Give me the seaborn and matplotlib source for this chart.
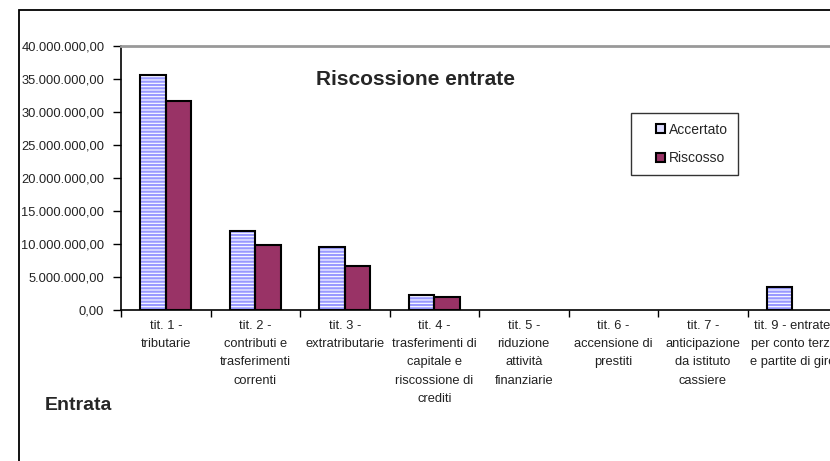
import pandas as pd
import numpy as np
import matplotlib.pyplot as plt
import seaborn as sns
from matplotlib.patches import Patch, Rectangle
from matplotlib.legend_handler import HandlerPatch
from matplotlib.ticker import FuncFormatter, FixedLocator

sns.set_style("white")
plt.rcParams['font.family'] = ['Liberation Sans', 'DejaVu Sans']
plt.rcParams['hatch.linewidth'] = 1.6

# Dati
categorie = [
    "tit. 1 -\ntributarie",
    "tit. 2 -\ncontributi e\ntrasferimenti\ncorrenti",
    "tit. 3 -\nextratributarie",
    "tit. 4 -\ntrasferimenti di\ncapitale e\nriscossione di\ncrediti",
    "tit. 5 -\nriduzione\nattività\nfinanziarie",
    "tit. 6 -\naccensione di\nprestiti",
    "tit. 7 -\nanticipazione\nda istituto\ncassiere",
    "tit. 9 - entrate\nper conto terzi\ne partite di giro",
]
accertato = [35.6e6, 12.0e6, 9.6e6, 2.2e6, 0, 0, 0, 3.5e6]
riscosso = [31.6e6, 9.8e6, 6.7e6, 2.0e6, 0, 0, 0, 0]
serie = ["Accertato", "Riscosso"]

df = pd.DataFrame({
    'categoria': categorie * 2,
    'valore': accertato + riscosso,
    'serie': [serie[0]] * len(categorie) + [serie[1]] * len(categorie),
})

fig = plt.figure(figsize=(8.3, 4.61), dpi=100)
ax = fig.add_axes([121 / 830, 151 / 461, 716 / 830, 264 / 461])

sns.barplot(data=df, x='categoria', y='valore', hue='serie', order=categorie,
            hue_order=serie, width=0.57, palette=['white', '#993366'],
            legend=False, ax=ax, saturation=1)

# Accertato: righe orizzontali azzurre, poi bordo nero sopra
n = len(categorie)
for i, p in enumerate(ax.patches[:2 * n]):
    if i < n:
        p.set_hatch('-----')
        p.set_edgecolor('#9999ff')
        p.set_linewidth(0)
        if p.get_height() > 0:
            ax.add_patch(Rectangle(p.get_xy(), p.get_width(), p.get_height(),
                                   fill=False, edgecolor='black', linewidth=1.5, zorder=3))
    else:
        p.set_edgecolor('black' if p.get_height() > 0 else 'none')
        p.set_linewidth(1.5)

ax.set_ylim(0, 40e6)
ax.set_xlim(-0.5, n - 0.5)
ax.set_yticks(np.arange(0, 40e6 + 1, 5e6))
ax.yaxis.set_major_formatter(FuncFormatter(
    lambda v, pos: f"{v:,.2f}".replace(",", "X").replace(".", ",").replace("X", ".")))
ax.tick_params(axis='y', left=True, direction='out', length=6, width=1,
               labelsize=9.3, colors='black', labelcolor='#222222', pad=6)
ax.set_xticks(range(n))
ax.set_xticklabels(categorie, linespacing=1.7)
ax.xaxis.set_minor_locator(FixedLocator(np.arange(-0.5, n, 1)))
ax.tick_params(axis='x', which='major', length=0, labelsize=9.3, labelcolor='#222222', pad=7)
ax.tick_params(axis='x', which='minor', bottom=True, length=5, width=1, direction='out', color='black')
ax.set_xlabel('')
ax.set_ylabel('')

for s in ['left', 'bottom']:
    ax.spines[s].set_color('black')
    ax.spines[s].set_linewidth(1.2)
ax.spines['top'].set_color('#999999')
ax.spines['top'].set_linewidth(2)
ax.spines['right'].set_visible(False)


# Legenda: quadratino spostato a destra come in Excel
def quadrato(legend, orig_handle, xdescent, ydescent, width, height, fontsize):
    s = height
    return Rectangle((-xdescent + width - s, -ydescent), s, s)


handles = [Patch(facecolor='#ddddff', edgecolor='black', linewidth=1.5),
           Patch(facecolor='#993366', edgecolor='black', linewidth=1.5)]
leg = fig.legend(handles, serie, loc='upper left', bbox_to_anchor=(631 / 830, 1 - 113 / 461),
                 fontsize=10, frameon=True, fancybox=False, handlelength=1.75, handleheight=0.65,
                 handletextpad=0.3, labelspacing=1.05, borderpad=0.7, borderaxespad=0,
                 handler_map={Patch: HandlerPatch(patch_func=quadrato)})
leg.get_frame().set_edgecolor('black')
leg.get_frame().set_linewidth(1)

# Titolo ed etichetta
fig.text(415 / 830, 1 - 79 / 461, "Riscossione entrate", ha='center', va='center',
         fontsize=15, fontweight='bold')
fig.text(45 / 830, 1 - 405 / 461, "Entrata", ha='left', va='center',
         fontsize=14, fontweight='bold')

# Bordo esterno dell'area grafico
fig.patches.append(Rectangle((19 / 830, -0.1), 1.2, 0.1 + (461 - 10) / 461,
                             transform=fig.transFigure, fill=False, edgecolor='black',
                             linewidth=1.3, zorder=0))

fig.savefig('out.png', dpi=100)
